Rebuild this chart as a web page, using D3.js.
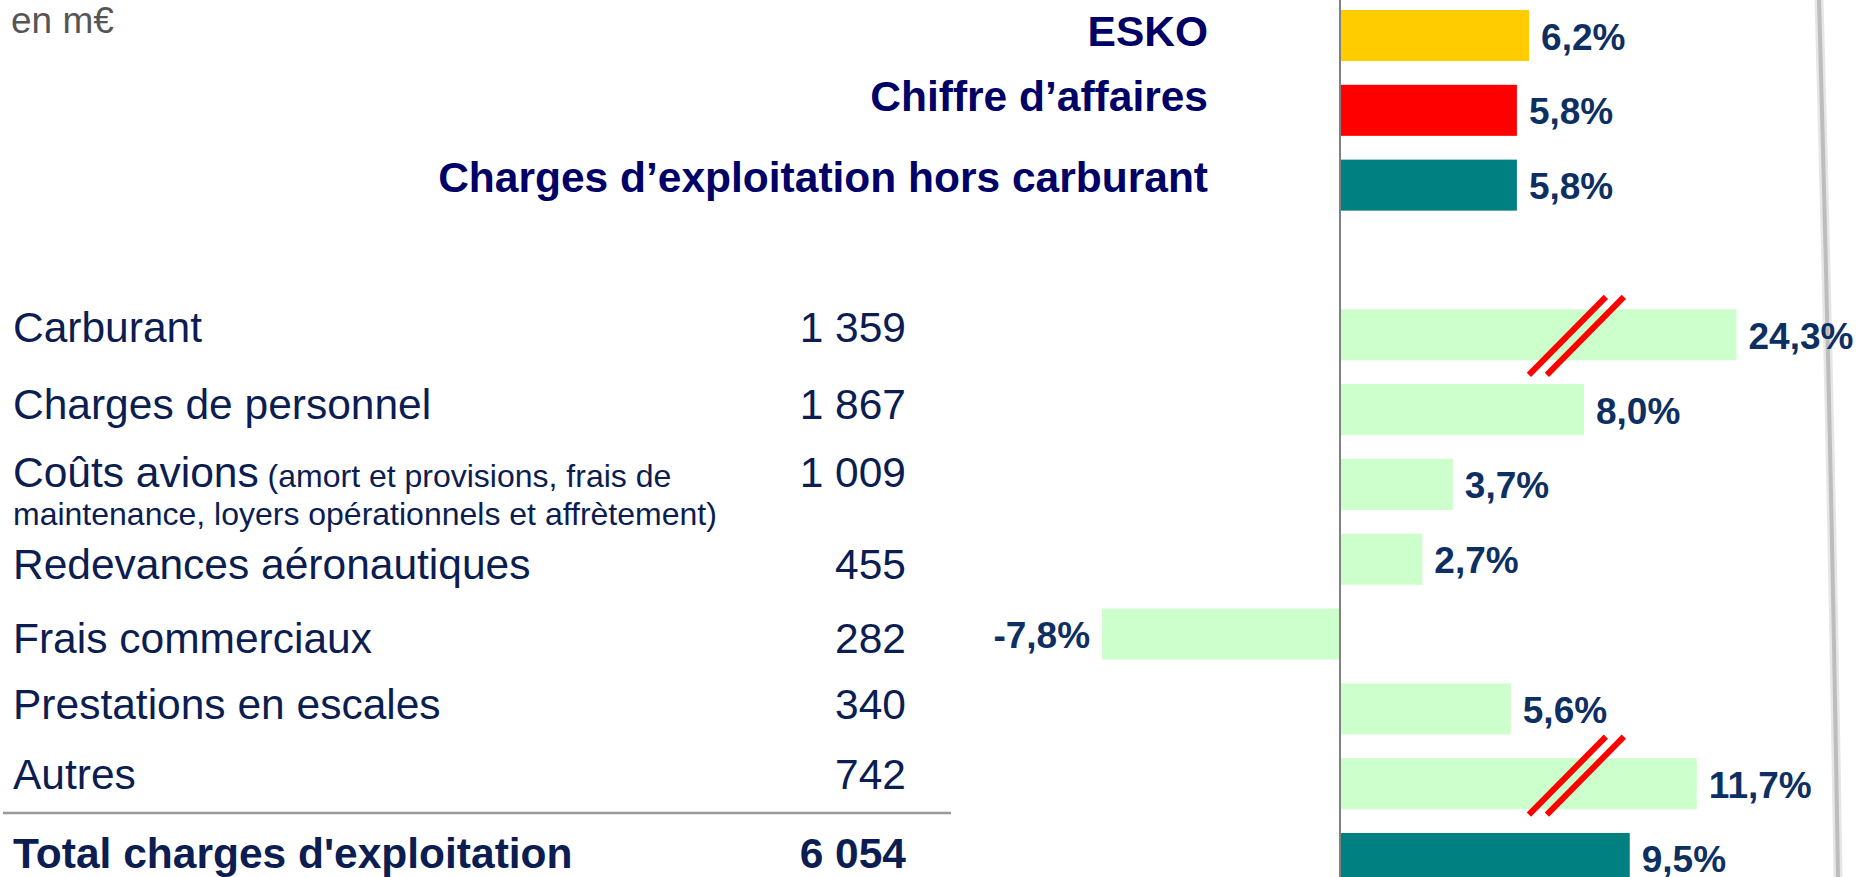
<!DOCTYPE html>
<html>
<head>
<meta charset="utf-8">
<script src="https://cdn.jsdelivr.net/npm/d3@7"></script>
<style>
  body { margin: 0; background: #fff; }
  svg { display: block; font-family: "Liberation Sans", Arial, Helvetica, sans-serif; }
</style>
</head>
<body>
<div id="chart"></div>
<script>
// données (variations en %, montants en m€)
const unitLabel = "en m€";

const headLabels = ["ESKO", "Chiffre d’affaires", "Charges d’exploitation hors carburant"];
const headValues = [6.2, 5.8, 5.8];

const categories = ["Carburant", "Charges de personnel", "Coûts avions", "Redevances aéronautiques",
  "Frais commerciaux", "Prestations en escales", "Autres"];
const categoryNotes = ["", "", "(amort et provisions, frais de|maintenance, loyers opérationnels et affrètement)",
  "", "", "", ""];
const amounts = [1359, 1867, 1009, 455, 282, 340, 742];
const variations = [24.3, 8.0, 3.7, 2.7, -7.8, 5.6, 11.7];

const totalLabel = "Total charges d'exploitation";
const totalAmount = 6054;
const totalVariation = 9.5;

const brokenRows = ["Carburant", "Autres"];

// mise en page
const width = 1857, height = 877;
const headColors = ["#ffcc00", "#ff0000", "#008080"];
const catColor = "#ccffcc", totalColor = "#008080";
const headTextColor = "#000066", labelColor = "#0b1d51", valueColor = "#0e2f62";
const breakCap = 13;          // longueur affichée des barres coupées
const breakAt = 7.75;         // position des traits de coupure
const headDy = [10, 1, 7];
const rowDy = [7, 9, 3, 20, 19, 10, 5, 10];
const breakDy = [0, -9];

const fr = d3.formatLocale({ decimal: ",", thousands: " ", grouping: [3], currency: ["", " €"], minus: "-" });
const fmtPct = v => fr.format(".1f")(v) + "%";
const fmtAmt = fr.format(",d");

const rows = headLabels.map((l, i) => ({ key: "h" + i, label: l, value: headValues[i], color: headColors[i], head: true, i }))
  .concat([{ key: "gap" }])
  .concat(categories.map((c, i) => ({ key: c, label: c, note: categoryNotes[i], amount: amounts[i], value: variations[i], color: catColor, i })))
  .concat([{ key: "total", label: totalLabel, amount: totalAmount, value: totalVariation, color: totalColor, total: true, i: categories.length }]);

const svg = d3.select("#chart").append("svg")
  .attr("width", width)
  .attr("height", height);

// échelles
const y = d3.scaleBand()
  .domain(rows.map(d => d.key))
  .range([10, 884])
  .paddingInner(0.318)
  .paddingOuter(0);

const x = d3.scaleLinear()
  .domain([-10, 16])
  .range([1035, 1828]);

const bw = y.bandwidth();
const mid = d => y(d.key) + bw / 2;
const shown = v => Math.min(v, breakCap);

// ombre de page à droite
svg.append("path")
  .attr("d", "M1819,0 Q1831,430 1838,877")
  .attr("fill", "none")
  .attr("stroke", "#e6e6e6")
  .attr("stroke-width", 9);
svg.append("path")
  .attr("d", "M1819,0 Q1831,430 1838,877")
  .attr("fill", "none")
  .attr("stroke", "#bdbdbd")
  .attr("stroke-width", 4);

const barRows = rows.filter(d => d.value != null);

// barres
svg.append("g")
  .selectAll("rect")
  .data(barRows)
  .join("rect")
  .attr("x", d => x(Math.min(0, d.value)))
  .attr("y", d => y(d.key))
  .attr("width", d => Math.abs(x(shown(d.value)) - x(0)))
  .attr("height", bw)
  .attr("fill", d => d.color);

// axe vertical
svg.append("line")
  .attr("x1", x(0)).attr("x2", x(0))
  .attr("y1", 0).attr("y2", height)
  .attr("stroke", "#808080")
  .attr("stroke-width", 2);

// traits de coupure
brokenRows.forEach((k, j) => {
  const cy = y(k) + bw / 2 + breakDy[j];
  const cx = x(breakAt);
  [-9, 9].forEach(o => {
    svg.append("line")
      .attr("x1", cx + o - 38.5).attr("y1", cy + 40)
      .attr("x2", cx + o + 38.5).attr("y2", cy - 38)
      .attr("stroke", "#ff0000")
      .attr("stroke-width", 6);
  });
});

// étiquettes des variations
svg.append("g")
  .selectAll("text")
  .data(barRows)
  .join("text")
  .attr("x", d => d.value < 0 ? x(d.value) - 12 : x(shown(d.value)) + 12)
  .attr("y", d => mid(d) + 14)
  .attr("text-anchor", d => d.value < 0 ? "end" : "start")
  .style("font-size", "37px")
  .style("font-weight", "bold")
  .attr("fill", valueColor)
  .text(d => fmtPct(d.value));

// titres des barres du haut
svg.append("g")
  .selectAll("text")
  .data(rows.filter(d => d.head))
  .join("text")
  .attr("x", 1208)
  .attr("y", d => mid(d) + headDy[d.i])
  .attr("text-anchor", "end")
  .style("font-size", "42.5px")
  .style("font-weight", "bold")
  .attr("fill", headTextColor)
  .text(d => d.label);

// tableau de gauche
const tableRows = rows.filter(d => d.amount != null);

const labels = svg.append("g")
  .selectAll("text")
  .data(tableRows)
  .join("text")
  .attr("x", 13)
  .attr("y", d => mid(d) + rowDy[d.i])
  .style("font-size", "42.5px")
  .style("font-weight", d => d.total ? "bold" : "normal")
  .attr("fill", labelColor);

labels.append("tspan").text(d => d.label);
labels.filter(d => d.note).each(function(d) {
  const parts = d.note.split("|");
  d3.select(this).append("tspan")
    .style("font-size", "32px")
    .text(" " + parts[0]);
  d3.select(this).append("tspan")
    .attr("x", 13)
    .attr("dy", 38)
    .style("font-size", "32px")
    .text(parts[1]);
});

svg.append("g")
  .selectAll("text")
  .data(tableRows)
  .join("text")
  .attr("x", 906)
  .attr("y", d => mid(d) + rowDy[d.i])
  .attr("text-anchor", "end")
  .style("font-size", "42.5px")
  .style("font-weight", d => d.total ? "bold" : "normal")
  .attr("fill", labelColor)
  .text(d => fmtAmt(d.amount));

// séparateur du total
svg.append("line")
  .attr("x1", 3).attr("x2", 951)
  .attr("y1", y("total") - 20).attr("y2", y("total") - 20)
  .attr("stroke", "#999")
  .attr("stroke-width", 2.5);

// unité
svg.append("text")
  .attr("x", 11)
  .attr("y", 33)
  .style("font-size", "37px")
  .attr("fill", "#555")
  .text(unitLabel);
</script>
</body>
</html>
